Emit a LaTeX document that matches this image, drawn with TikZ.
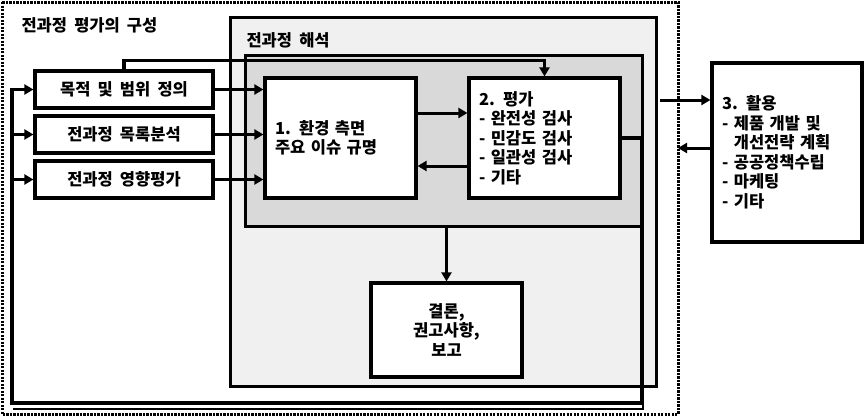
\documentclass[tikz,border=0pt]{standalone}
\usepackage{fontspec}
\setmainfont{Noto Sans CJK KR}[WordSpace=1.9]
\usetikzlibrary{arrows.meta,positioning}

\tikzset{
  frame/.style={line width=3pt, dash pattern=on 2.2pt off 1.3pt},
  panel/.style={draw, line width=3pt, inner sep=0pt},
  stepbox/.style={draw, line width=3.2pt, fill=white, inner xsep=10pt, inner ysep=0pt},
  flow/.style={->, line width=3pt},
  fb/.style={line width=3.5pt}
}

\begin{document}
\begin{tikzpicture}[x=1pt, y=-1pt, node distance=45pt, on grid,
  font=\fontsize{16.5}{19.5}\selectfont\bfseries, >={Triangle[length=9pt,width=10pt]}]
\useasboundingbox (0,0) rectangle (865,418);
\draw[frame] (2,2) rectangle (678,414);
\node[anchor=west] (title) at (18,25) {전과정 평가의 구성};
\node[panel, fill=black!6, minimum width=426pt, minimum height=369pt] (ana) at (443,201.5) {};
\node[anchor=west] (anatitle) at (243,40) {전과정 해석};
\node[panel, fill=black!15, minimum width=397pt, minimum height=171pt] (core) at (443.5,140.5) {};

\node[stepbox, minimum width=178pt, minimum height=37pt] (goal) at (124,89.5) {목적 및 범위 정의};
\node[stepbox, minimum width=178pt, minimum height=37pt] (lci) [below=of goal] {전과정 목록분석};
\node[stepbox, minimum width=178pt, minimum height=37pt] (lcia) [below=of lci] {전과정 영향평가};

\node[stepbox, text width=131pt, minimum height=120pt, align=left] (issue) at (340.5,138) {1. 환경 측면\\주요 이슈 규명};
\node[stepbox, text width=131pt, minimum height=120pt, align=left] (eval) [right=204pt of issue] {2. 평가\\- 완전성 검사\\- 민감도 검사\\- 일관성 검사\\- 기타};
\node[stepbox, text width=131pt, minimum height=94pt, align=center] (concl) at (446.5,330) {결론,\\권고사항,\\보고};
\node[stepbox, text width=130pt, minimum height=179pt, align=left] (use) at (787,152.5) {3. 활용\\- 제품 개발 및\\\phantom{- }개선전략 계획\\- 공공정책수립\\- 마케팅\\- 기타};

\draw[flow] (goal.east) -- (goal.east -| issue.west);
\draw[flow] (lci.east) -- (lci.east -| issue.west);
\draw[flow] (lcia.east) -- (lcia.east -| issue.west);
\draw[flow] ([yshift=25pt]issue.east) -- ([yshift=25pt]eval.west);
\draw[flow] ([yshift=-28pt]eval.west) -- ([yshift=-28pt]issue.east);
\draw[flow] (core.south -| concl.north) -- (concl.north);

% feedback loops
\draw[fb, ->] (goal.north) -- ++(0,-9) -| (eval.north);
\coordinate (fbR) at (642,403);
\coordinate (fbL) at (12,403);
\draw[fb, ->] (eval.east) -| (fbR) -- (fbL) |- (goal.west);
\draw[fb, ->] (fbL |- lci.west) -- (lci.west);
\draw[fb, ->] (fbL |- lcia.west) -- (lcia.west);
\draw[line width=1.5pt] ([shift={(1pt,-6pt)}]fbL) -- ([shift={(1pt,-6pt)}]fbR) -- ([xshift=1pt]fbR);

% use
\coordinate (outS) at (660,100);
\coordinate (backE) at (678,148);
\draw[flow] (outS) -- (outS -| use.west);
\draw[flow] (use.west |- backE) -- (backE);
\end{tikzpicture}
\end{document}
